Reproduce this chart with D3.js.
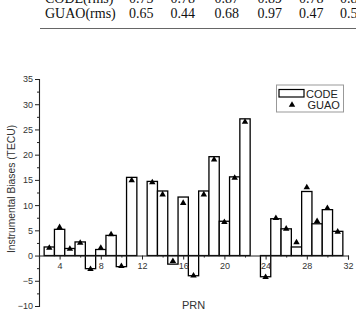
<!DOCTYPE html>
<html>
<head>
<meta charset="utf-8">
<script src="https://cdn.jsdelivr.net/npm/d3@7"></script>
<style>
  body { margin: 0; background: #fff; }
  svg { display: block; }
</style>
</head>
<body>
<div id="chart-area"></div>
<script>
var width = 356;
var height = 309;

// table rows cut off at the top of the figure
var tableNames = ["CODE(rms)", "GUAO(rms)"];
var codeRms = ["0.73", "0.78", "0.87", "0.89", "0.78", "0.8"];
var guaoRms = ["0.65", "0.44", "0.68", "0.97", "0.47", "0.5"];

// chart data
var prn = [3, 4, 5, 6, 7, 8, 9, 10, 11, 13, 14, 15, 16, 17, 18, 19, 20, 21, 22, 24, 25, 26, 27, 28, 29, 30, 31];
var code = [1.7, 5.2, 1.4, 2.7, -2.6, 1.2, 4.0, -2.2, 15.5, 14.7, 12.8, -1.7, 11.6, -4.0, 12.8, 19.6, 6.8, 15.6, 27.1, -4.2, 7.3, 5.3, 1.7, 12.7, 6.3, 9.1, 4.8];
var guao = [1.5, 5.6, 1.3, 2.5, -2.7, 1.5, 4.2, -2.1, 14.9, 14.5, 12.1, -1.1, 10.4, -4.0, 12.1, 19.0, 6.6, 15.4, 26.5, -4.3, 7.4, 5.3, 2.6, 13.5, 6.8, 9.4, 4.7];
var xTicks = [4, 8, 12, 16, 20, 24, 28, 32];
var yTicks = [-10, -5, 0, 5, 10, 15, 20, 25, 30, 35];

var svg = d3.select("#chart-area").append("svg")
    .attr("width", width)
    .attr("height", height);

// ---- table fragment ----
var colX = [129, 170.5, 214.5, 257.5, 299, 340];
var rowY = [2.5, 17.8];
[codeRms, guaoRms].forEach((row, r) => {
    svg.append("text")
        .attr("x", 45).attr("y", rowY[r])
        .attr("font-family", "Liberation Serif, Times New Roman, serif")
        .attr("font-size", 14)
        .attr("fill", "#111")
        .text(tableNames[r]);
    row.forEach((v, i) => {
        svg.append("text")
            .attr("x", colX[i]).attr("y", rowY[r])
            .attr("font-family", "Liberation Serif, Times New Roman, serif")
            .attr("font-size", 14)
            .attr("fill", "#111")
            .text(v);
    });
});
svg.append("line")
    .attr("x1", 40).attr("x2", width)
    .attr("y1", 28.5).attr("y2", 28.5)
    .attr("stroke", "#666").attr("stroke-width", 1.2);

// ---- chart ----
var x = d3.scaleLinear().domain([2, 32]).range([39, 348]);
var y = d3.scaleLinear().domain([-10, 35]).range([306, 79]);
var font = "Liberation Sans, Arial, sans-serif";

var barW = x(3) - x(2);

svg.selectAll("rect.bar").data(prn).enter().append("rect")
    .attr("class", "bar")
    .attr("x", (d) => x(d) - barW / 2)
    .attr("width", barW)
    .attr("y", (d, i) => y(Math.max(0, code[i])))
    .attr("height", (d, i) => Math.abs(y(code[i]) - y(0)))
    .attr("fill", "#fff")
    .attr("stroke", "#000")
    .attr("stroke-width", 1.3);

var tri = d3.symbol().type(d3.symbolTriangle).size(18);
svg.selectAll("path.tri").data(prn).enter().append("path")
    .attr("class", "tri")
    .attr("d", tri)
    .attr("transform", (d, i) => "translate(" + x(d) + "," + y(guao[i]) + ")")
    .attr("fill", "#000");

// y axis
var yAxis = svg.append("g")
    .attr("transform", "translate(" + x(2) + ",0)")
    .call(d3.axisLeft(y).tickValues(yTicks).tickSize(4).tickPadding(2));
svg.append("g")
    .attr("transform", "translate(" + x(2) + ",0)")
    .call(d3.axisLeft(y).tickValues(d3.range(-7.5, 35, 5)).tickSize(2).tickFormat(""))
    .select(".domain").remove();

// x axis on zero line
var xAxis = svg.append("g")
    .attr("transform", "translate(0," + y(0) + ")")
    .call(d3.axisBottom(x).tickValues(xTicks).tickSize(4).tickPadding(3));
svg.append("g")
    .attr("transform", "translate(0," + y(0) + ")")
    .call(d3.axisBottom(x).tickValues(d3.range(6, 32, 4)).tickSize(2).tickFormat(""))
    .select(".domain").remove();

[yAxis, xAxis].forEach((g) => {
    g.select(".domain").attr("stroke", "#222").attr("stroke-width", 1.1);
    g.selectAll("text").attr("font-family", font).attr("font-size", 9).attr("fill", "#333");
});
svg.selectAll("g").selectAll(".tick line").attr("stroke", "#222");

// axis titles
svg.append("text")
    .attr("transform", "translate(15," + 189 + ") rotate(-90)")
    .attr("text-anchor", "middle")
    .attr("font-family", font)
    .attr("font-size", 10.3)
    .attr("fill", "#333")
    .text("Instrumental Biases (TECU)");

svg.append("text")
    .attr("x", 193.5).attr("y", 309)
    .attr("text-anchor", "middle")
    .attr("font-family", font)
    .attr("font-size", 11)
    .attr("fill", "#333")
    .text("PRN");

// legend
var legend = svg.append("g");
legend.append("rect")
    .attr("x", 276.5).attr("y", 85)
    .attr("width", 67).attr("height", 27)
    .attr("fill", "#fff")
    .attr("stroke", "#999").attr("stroke-width", 1);
legend.append("rect")
    .attr("x", 279).attr("y", 89.5)
    .attr("width", 25).attr("height", 7.5)
    .attr("fill", "#fff").attr("stroke", "#000").attr("stroke-width", 1.2);
legend.append("path")
    .attr("d", tri)
    .attr("transform", "translate(292,105)")
    .attr("fill", "#000");
legend.append("text")
    .attr("x", 306).attr("y", 97.5)
    .attr("font-family", font).attr("font-size", 11).attr("fill", "#222")
    .text("CODE");
legend.append("text")
    .attr("x", 307.5).attr("y", 109)
    .attr("font-family", font).attr("font-size", 11).attr("fill", "#222")
    .text("GUAO");
</script>
</body>
</html>
